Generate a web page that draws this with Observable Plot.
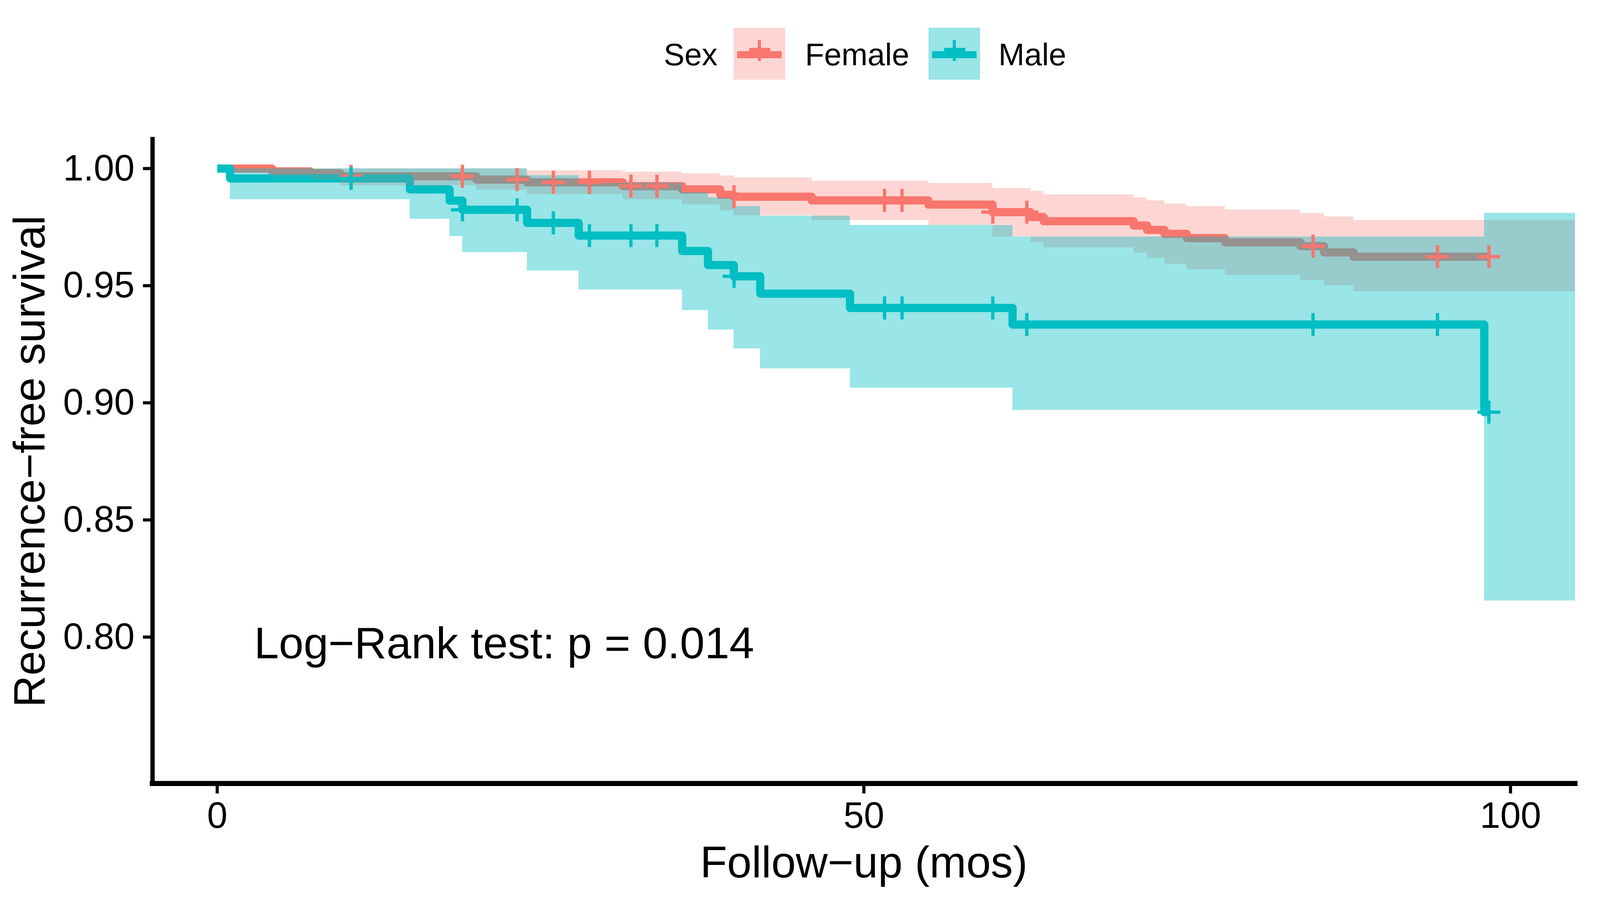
<!DOCTYPE html>
<html>
<head>
<meta charset="utf-8">
<script src="https://cdn.jsdelivr.net/npm/d3@7"></script>
<script src="https://cdn.jsdelivr.net/npm/@observablehq/plot@0.6"></script>
<style>
  html, body { margin: 0; padding: 0; background: #ffffff; }
  #chart { width: 4156px; height: 2337px; position: relative; background: #ffffff;
           font-family: "Liberation Sans", Arial, "DejaVu Sans", sans-serif; }
  #chart svg { display: block; }
</style>
</head>
<body>
<div id="chart"></div>
<script>
// ---------------- data ----------------
const groups = ["Female", "Male"];
const groupColors = ["#F8766D", "#00BFC4"];
const legendTitle = "Sex";

const xTicks = [0, 50, 100];
const yTicks = [0.80, 0.85, 0.90, 0.95, 1.00];
const xLabel = "Follow\u2212up (mos)";
const yLabel = "Recurrence\u2212free survival";
const pvalueText = "Log\u2212Rank test: p = 0.014";

// Female Kaplan-Meier steps (value after each step)
const femaleTime  = [0, 4.24, 7.2, 9.5, 20.04, 23.96, 31.37, 35.95, 38.9, 39.94, 45.97, 55.0, 59.95, 62.9, 63.9, 70.86, 71.9, 73.25, 74.96, 77.92, 83.76, 85.58, 87.86];
const femaleSurv  = [1, 0.9988, 0.998, 0.9967, 0.9953, 0.9941, 0.9925, 0.9911, 0.9888, 0.988, 0.9864, 0.9846, 0.9814, 0.9793, 0.9775, 0.9757, 0.9738, 0.9721, 0.9703, 0.9685, 0.9669, 0.9642, 0.9624];
const femaleUpper = [1, 1, 1, 1, 1, 0.9992, 0.9986, 0.9979, 0.997, 0.9961, 0.9948, 0.9938, 0.9916, 0.9904, 0.9889, 0.9876, 0.9863, 0.985, 0.9839, 0.9824, 0.981, 0.9795, 0.9779];
const femaleLower = [1, 0.9965, 0.9952, 0.9928, 0.9909, 0.989, 0.9868, 0.9846, 0.9821, 0.98, 0.9779, 0.9758, 0.9709, 0.9685, 0.9663, 0.964, 0.9617, 0.9593, 0.9569, 0.9545, 0.9523, 0.95, 0.9475];
const femaleCensor = [10.35, 18.96, 23.19, 25.99, 28.78, 31.99, 34.0, 39.96, 51.6, 52.95, 59.97, 62.6, 84.73, 94.35, 98.33];

// Male Kaplan-Meier steps
const maleTime  = [0, 0.99, 14.9, 17.97, 18.96, 23.96, 27.95, 35.95, 37.95, 39.94, 41.99, 48.93, 61.5, 97.97];
const maleSurv  = [1, 0.9958, 0.9911, 0.9863, 0.9824, 0.9768, 0.9714, 0.9648, 0.9588, 0.954, 0.9466, 0.9405, 0.9334, 0.896];
const maleUpper = [1, 1, 1, 1, 1, 0.9971, 0.9938, 0.9898, 0.9876, 0.9839, 0.9798, 0.9758, 0.9709, 0.981];
const maleLower = [1, 0.9868, 0.9785, 0.9711, 0.9642, 0.9564, 0.9483, 0.9395, 0.9312, 0.9231, 0.9146, 0.9064, 0.8969, 0.8155];
const maleCensor = [10.35, 18.96, 23.19, 25.99, 28.78, 31.99, 34.0, 39.96, 51.6, 52.95, 59.97, 62.6, 84.73, 94.35, 98.33];

// axis limits (ggplot expansion of 0..100 and 0.75..1)
const xDomain = [-5, 105];
const yDomain = [0.7375, 1.0125];

// ---------------- build tables ----------------
function survAt(times, values, t) {
  let v = values[0];
  for (let i = 0; i < times.length; i++) if (times[i] <= t) v = values[i];
  return v;
}
function curveRows(group, time, surv, censor) {
  const rows = time.map((t, i) => ({group, time: t, surv: surv[i]}));
  const last = d3.max(censor);
  rows.push({group, time: last, surv: survAt(time, surv, last)});
  return rows;
}
function ribbonRows(group, time, upper, lower) {
  const rows = time.map((t, i) => ({group, time: t, upper: upper[i], lower: lower[i]}));
  rows.push({group, time: xDomain[1], upper: upper[upper.length - 1], lower: lower[lower.length - 1]});
  return rows;
}
function censorRows(group, time, surv, censor) {
  return censor.map(t => ({group, time: t, surv: survAt(time, surv, t)}));
}

const lines = [
  ...curveRows("Female", femaleTime, femaleSurv, femaleCensor),
  ...curveRows("Male", maleTime, maleSurv, maleCensor)
];
const femaleRibbon = ribbonRows("Female", femaleTime, femaleUpper, femaleLower);
const maleRibbon = ribbonRows("Male", maleTime, maleUpper, maleLower);
const censors = [
  ...censorRows("Female", femaleTime, femaleSurv, femaleCensor),
  ...censorRows("Male", maleTime, maleSurv, maleCensor)
];

const W = 4156, H = 2337, legendH = 230;
const ribbonOpacity = [0.3, 0.4];
const chart = document.getElementById("chart");

// ---------------- legend (above the plot) ----------------
const legend = d3.create("svg")
  .attr("width", W).attr("height", legendH)
  .attr("font-family", "\"Liberation Sans\", Arial, sans-serif");
legend.append("text").attr("x", 1699).attr("y", 167).attr("font-size", 80).attr("fill", "#000").text(legendTitle);
const keyX = [1878, 2377], labelX = [2061, 2556];
groups.forEach((g, i) => {
  const k = legend.append("g").attr("transform", `translate(${keyX[i]},71)`);
  k.append("rect").attr("width", 132).attr("height", 133).attr("fill", groupColors[i]).attr("fill-opacity", ribbonOpacity[i]);
  k.append("line").attr("x1", 9).attr("x2", 123).attr("y1", 69).attr("y2", 69)
    .attr("stroke", groupColors[i]).attr("stroke-width", 18);
  k.append("line").attr("x1", 66).attr("x2", 66).attr("y1", 31).attr("y2", 85)
    .attr("stroke", groupColors[i]).attr("stroke-width", 8);
  k.append("line").attr("x1", 40).attr("x2", 94).attr("y1", 56).attr("y2", 56)
    .attr("stroke", groupColors[i]).attr("stroke-width", 9);
  legend.append("text").attr("x", labelX[i]).attr("y", 167).attr("font-size", 80).attr("fill", "#000").text(g);
});
chart.appendChild(legend.node());

// ---------------- plot ----------------
const plot = Plot.plot({
  width: W,
  height: H - legendH,
  marginTop: 126,
  marginBottom: 332,
  marginLeft: 390,
  marginRight: 124,
  style: {fontFamily: "\"Liberation Sans\", Arial, sans-serif", color: "#000", background: "#fff", overflow: "visible"},
  x: {domain: xDomain},
  y: {domain: yDomain},
  color: {domain: groups, range: groupColors},
  marks: [
    Plot.line(lines, {x: "time", y: "surv", stroke: "group", z: "group", curve: "step-after",
      strokeWidth: 21, strokeLinecap: "butt", strokeLinejoin: "round"}),
    Plot.areaY(femaleRibbon, {x: "time", y1: "lower", y2: "upper", fill: "group",
      fillOpacity: ribbonOpacity[0], curve: "step-after"}),
    Plot.areaY(maleRibbon, {x: "time", y1: "lower", y2: "upper", fill: "group",
      fillOpacity: ribbonOpacity[1], curve: "step-after"}),
    Plot.dot(censors, {x: "time", y: "surv", stroke: "group", symbol: "plus", r: 19, strokeWidth: 8.5}),
    Plot.text([pvalueText], {x: 2.85, y: 0.797, text: d => d, textAnchor: "start", lineAnchor: "middle",
      fontSize: 114, fill: "#000"}),
    Plot.axisX(xTicks, {anchor: "bottom", tickSize: 26, tickPadding: 21, fontSize: 94,
      strokeWidth: 8, label: null, tickFormat: d3.format("d")}),
    Plot.axisY(yTicks, {anchor: "left", tickSize: 24, tickPadding: 22, fontSize: 94,
      strokeWidth: 8, label: null, tickFormat: d3.format(".2f")}),
    Plot.ruleY([yDomain[0]], {strokeWidth: 13, strokeLinecap: "square", stroke: "#000"}),
    Plot.ruleX([xDomain[0]], {strokeWidth: 11, strokeLinecap: "square", stroke: "#000"}),
    Plot.text([xLabel], {frameAnchor: "bottom", lineAnchor: "bottom", textAnchor: "middle", dy: 240, text: d => d,
      fontSize: 113, fill: "#000"}),
    Plot.text([yLabel], {frameAnchor: "left", lineAnchor: "bottom", textAnchor: "middle", rotate: -90, dx: -277, text: d => d,
      fontSize: 113, fill: "#000"})
  ]
});
chart.appendChild(plot);
</script>
</body>
</html>
